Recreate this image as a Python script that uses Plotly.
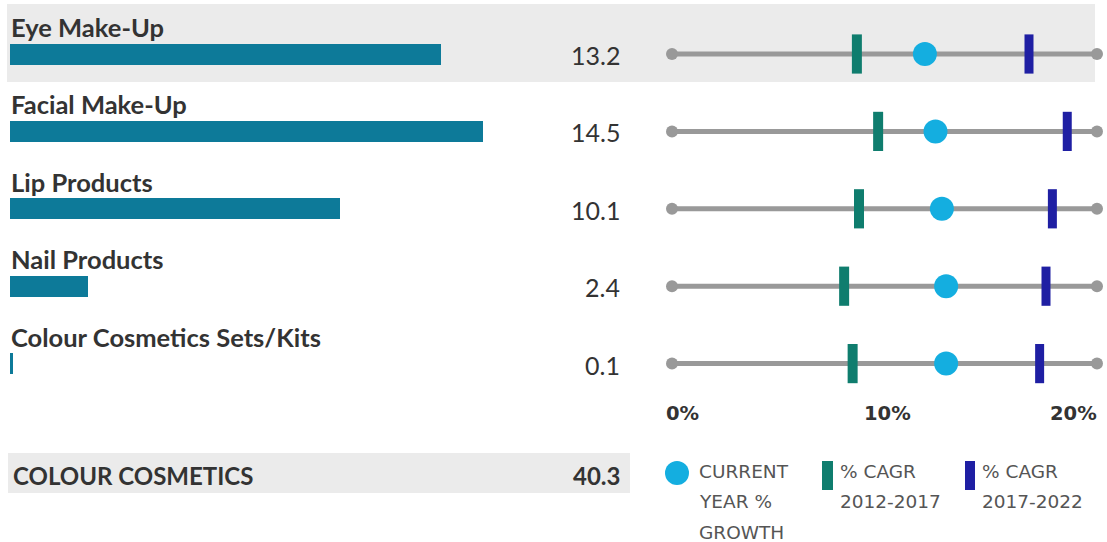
import plotly.graph_objects as go

# ---- data ----
categories = ["Eye Make-Up", "Facial Make-Up", "Lip Products", "Nail Products",
              "Colour Cosmetics Sets/Kits"]
retail_value = [13.2, 14.5, 10.1, 2.4, 0.1]
current_growth = [11.9, 12.4, 12.7, 12.9, 12.9]
cagr_2012_2017 = [8.7, 9.7, 8.8, 8.1, 8.5]
cagr_2017_2022 = [16.8, 18.6, 17.9, 17.6, 17.3]
total_label = "COLOUR COSMETICS"
total_value = 40.3
growth_range = [0, 20]
growth_ticks = [0, 10, 20]
growth_tick_text = ["0%", "10%", "20%"]
legend_labels = [["CURRENT", "YEAR %", "GROWTH"],
                 ["% CAGR", "2012-2017"],
                 ["% CAGR", "2017-2022"]]

# ---- styling ----
W, H = 1107, 542
BAR_COLOR = "#0d7a99"
CYAN = "#14aee0"
GREEN = "#0f7d6e"
BLUE = "#1f1fa3"
LINE_GREY = "#999999"
BAND = "#ebebeb"
TEXT = "#333333"
LEGEND_TEXT = "#555555"
LABEL_FONT = "Lato"
SMALL_FONT = "DejaVu Sans"

ROW0, ROW_STEP = 54, 77.4
row_y = [ROW0 + i * ROW_STEP for i in range(len(categories))]

BAR_X0, BAR_X1 = 10, 640      # pixel extent of value axis
PX_PER_UNIT = 32.65
DOT_X0, DOT_X1 = 672, 1097    # pixel extent of growth axis

fig = go.Figure()

# value bars
fig.add_trace(go.Bar(
    x=retail_value, y=row_y, orientation="h", width=21,
    marker=dict(color=BAR_COLOR, line=dict(width=0)),
    xaxis="x", yaxis="y", hoverinfo="skip",
))

# growth track per row
for y in row_y:
    fig.add_trace(go.Scatter(
        x=growth_range, y=[y, y], mode="lines+markers",
        line=dict(color=LINE_GREY, width=5),
        marker=dict(color=LINE_GREY, size=12),
        xaxis="x2", yaxis="y", hoverinfo="skip", cliponaxis=False,
    ))

fig.add_trace(go.Scatter(
    x=cagr_2012_2017, y=row_y, mode="markers",
    marker=dict(symbol="line-ns", size=28, color=GREEN,
                line=dict(color=GREEN, width=10)),
    xaxis="x2", yaxis="y", cliponaxis=False,
))
fig.add_trace(go.Scatter(
    x=cagr_2017_2022, y=row_y, mode="markers",
    marker=dict(symbol="line-ns", size=28, color=BLUE,
                line=dict(color=BLUE, width=9)),
    xaxis="x2", yaxis="y", cliponaxis=False,
))
fig.add_trace(go.Scatter(
    x=current_growth, y=row_y, mode="markers",
    marker=dict(symbol="circle", size=24, color=CYAN, line=dict(width=0)),
    xaxis="x2", yaxis="y", cliponaxis=False,
))

shapes = [
    # highlighted first row band
    dict(type="rect", xref="paper", yref="y", x0=7 / W, x1=1095 / W, y0=4, y1=82,
         fillcolor=BAND, line=dict(width=0), layer="below"),
    # total row band
    dict(type="rect", xref="paper", yref="y", x0=8 / W, x1=630 / W, y0=453, y1=493,
         fillcolor=BAND, line=dict(width=0), layer="below"),
]

annotations = []
for name, val, y in zip(categories, retail_value, row_y):
    annotations.append(dict(
        text=f"<b>{name}</b>", xref="paper", yref="y", x=9 / W, y=y - 27,
        xanchor="left", yanchor="middle", showarrow=False,
        font=dict(family=LABEL_FONT, size=25.5, color=TEXT)))
    annotations.append(dict(
        text=f"{val:.1f}", xref="paper", yref="y", x=622 / W, y=y + 1,
        xanchor="right", yanchor="middle", showarrow=False,
        font=dict(family=LABEL_FONT, size=25, color=TEXT)))

annotations.append(dict(
    text=f"<b>{total_label}</b>", xref="paper", yref="y", x=11 / W, y=475,
    xanchor="left", yanchor="middle", showarrow=False,
    font=dict(family=LABEL_FONT, size=24, color=TEXT)))
annotations.append(dict(
    text=f"<b>{total_value:.1f}</b>", xref="paper", yref="y", x=622 / W, y=475,
    xanchor="right", yanchor="middle", showarrow=False,
    font=dict(family=LABEL_FONT, size=24, color=TEXT)))

# growth axis tick labels: outer ones aligned to the track ends
anchors = ["left", "center", "right"]
offsets = [-8, 3, 2]
for tv, tt, anc, off in zip(growth_ticks, growth_tick_text, anchors, offsets):
    annotations.append(dict(
        text=f"<b>{tt}</b>", xref="x2", yref="y", x=tv, y=413,
        xanchor=anc, yanchor="middle", xshift=off, showarrow=False,
        font=dict(family=SMALL_FONT, size=19.5, color=TEXT)))

# legend
LEG_Y = 471
LEG_LINE = 30.5
leg_text_x = [697, 838, 980]
for lines, lx in zip(legend_labels, leg_text_x):
    for k, line in enumerate(lines):
        annotations.append(dict(
            text=line, xref="paper", yref="y", x=lx / W, y=LEG_Y + k * LEG_LINE,
            xanchor="left", yanchor="middle", align="left", showarrow=False,
            font=dict(family=SMALL_FONT, size=18.5, color=LEGEND_TEXT)))

shapes += [
    dict(type="circle", xref="paper", yref="y", x0=665 / W, x1=689 / W,
         y0=LEG_Y - 10, y1=LEG_Y + 14, fillcolor=CYAN, line=dict(width=0)),
    dict(type="rect", xref="paper", yref="y", x0=822 / W, x1=833 / W,
         y0=LEG_Y - 10, y1=LEG_Y + 19, fillcolor=GREEN, line=dict(width=0)),
    dict(type="rect", xref="paper", yref="y", x0=965 / W, x1=975 / W,
         y0=LEG_Y - 10, y1=LEG_Y + 19, fillcolor=BLUE, line=dict(width=0)),
]

fig.update_layout(
    width=W, height=H, autosize=False,
    margin=dict(l=0, r=0, t=0, b=0, pad=0),
    paper_bgcolor="white", plot_bgcolor="rgba(0,0,0,0)",
    showlegend=False, bargap=0,
    xaxis=dict(domain=[BAR_X0 / W, BAR_X1 / W],
               range=[0, (BAR_X1 - BAR_X0) / PX_PER_UNIT],
               visible=False, fixedrange=True),
    xaxis2=dict(domain=[DOT_X0 / W, DOT_X1 / W], range=growth_range,
                anchor="y", visible=False, fixedrange=True),
    yaxis=dict(domain=[0, 1], range=[H, 0], visible=False, fixedrange=True),
    shapes=shapes, annotations=annotations,
)

fig.write_html("out.html", config={"displayModeBar": False})
